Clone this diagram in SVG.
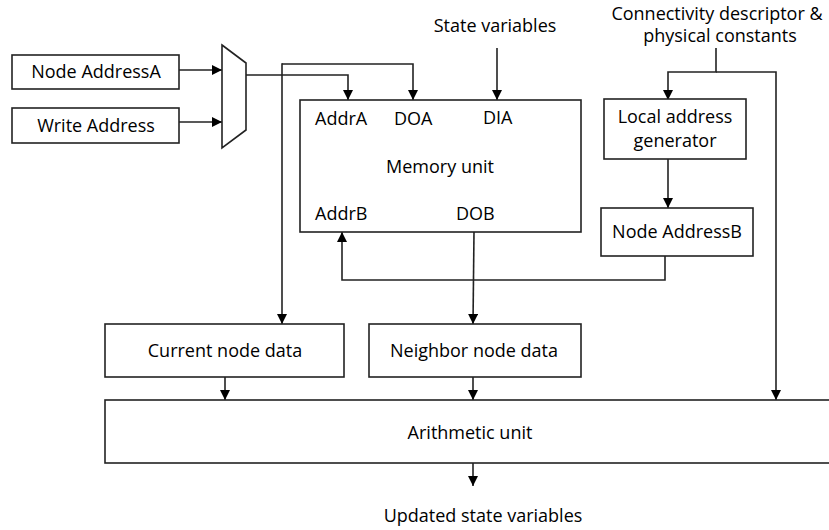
<svg xmlns="http://www.w3.org/2000/svg" width="829" height="530" viewBox="0 0 829 530">
  <defs>
    <marker id="arrow" viewBox="0 0 10 10" refX="10" refY="5" markerWidth="10" markerHeight="10" markerUnits="userSpaceOnUse" orient="auto">
      <path d="M0,0 L10,5 L0,10 Z" fill="#000"/>
    </marker>
  </defs>
  <style>
    .box { fill: #fff; stroke: #222; stroke-width: 1.6; }
    .wire { fill: none; stroke: #222; stroke-width: 1.6; }
    .arr { marker-end: url(#arrow); }
    text { font-family: "Open Sans", "Liberation Sans", sans-serif; font-size: 18px; fill: #000; }
    .c { text-anchor: middle; }
  </style>
  <rect width="829" height="530" fill="#fff"/>

  <g id="connectors">
    <!-- address inputs into the multiplexer -->
    <line class="wire arr" x1="179" y1="70" x2="222" y2="70"/>
    <line class="wire arr" x1="179" y1="122" x2="222" y2="122"/>
    <!-- mux output to AddrA -->
    <polyline class="wire arr" points="246,75 348,75 348,100"/>
    <!-- shared line: into DOA and down to current node data -->
    <polyline class="wire arr" points="282,64 413,64 413,100"/>
    <line class="wire arr" x1="282" y1="63.2" x2="282" y2="324"/>
    <!-- state variables into DIA -->
    <line class="wire arr" x1="497" y1="48" x2="497" y2="100"/>
    <!-- connectivity descriptor -->
    <polyline class="wire arr" points="716,48 716,72 668,72 668,100"/>
    <polyline class="wire arr" points="716,72 776,72 776,400"/>
    <!-- local address generator to node address B -->
    <line class="wire arr" x1="668" y1="159" x2="668" y2="208"/>
    <!-- node address B back to AddrB -->
    <polyline class="wire arr" points="665,256 665,280 342,280 342,232"/>
    <!-- DOB to neighbor node data -->
    <line class="wire arr" x1="474" y1="232" x2="473" y2="324"/>
    <!-- node data into arithmetic unit -->
    <line class="wire arr" x1="225" y1="377" x2="225" y2="400"/>
    <line class="wire arr" x1="473" y1="377" x2="473" y2="400"/>
    <!-- result out -->
    <line class="wire arr" x1="473" y1="463" x2="473" y2="486"/>
  </g>

  <g id="node-address-a">
    <rect class="box" x="12" y="55" width="167" height="34"/>
    <text class="c" x="96" y="78">Node AddressA</text>
  </g>
  <g id="write-address">
    <rect class="box" x="12" y="108" width="167" height="35"/>
    <text class="c" x="96" y="132">Write Address</text>
  </g>
  <g id="mux">
    <polygon class="box" points="222,45 246,63 246,130 222,148"/>
  </g>
  <g id="memory-unit">
    <rect class="box" x="300" y="100" width="281" height="132"/>
    <text x="315" y="125">AddrA</text>
    <text x="394" y="125">DOA</text>
    <text x="483" y="124">DIA</text>
    <text class="c" x="440" y="173">Memory unit</text>
    <text x="315" y="220">AddrB</text>
    <text x="456" y="220">DOB</text>
  </g>
  <g id="state-variables">
    <text class="c" x="495" y="32">State variables</text>
  </g>
  <g id="connectivity">
    <text class="c" x="717" y="20">Connectivity descriptor &amp;</text>
    <text class="c" x="720" y="42">physical constants</text>
  </g>
  <g id="local-address-generator">
    <rect class="box" x="604" y="99" width="142" height="60"/>
    <text class="c" x="675" y="123">Local address</text>
    <text class="c" x="675" y="147">generator</text>
  </g>
  <g id="node-address-b">
    <rect class="box" x="601" y="208" width="152" height="48"/>
    <text class="c" x="677" y="238">Node AddressB</text>
  </g>
  <g id="current-node-data">
    <rect class="box" x="105" y="324" width="239" height="53"/>
    <text class="c" x="225" y="357">Current node data</text>
  </g>
  <g id="neighbor-node-data">
    <rect class="box" x="369" y="324" width="212" height="53"/>
    <text class="c" x="474" y="357">Neighbor node data</text>
  </g>
  <g id="arithmetic-unit">
    <rect class="box" x="105" y="400" width="740" height="63"/>
    <text class="c" x="470" y="439">Arithmetic unit</text>
  </g>
  <g id="updated-state">
    <text class="c" x="483" y="522">Updated state variables</text>
  </g>
</svg>
